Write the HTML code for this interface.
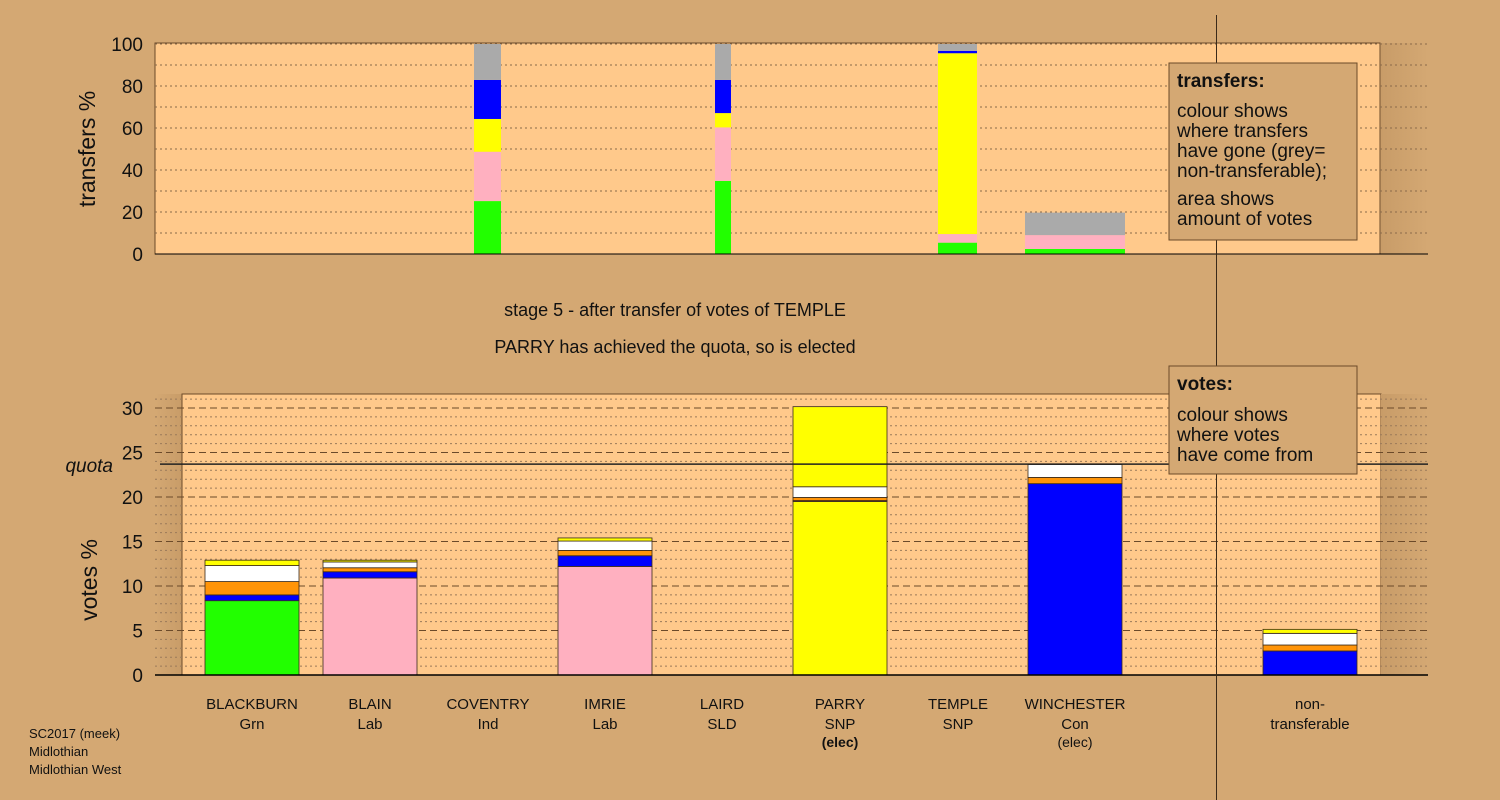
<!DOCTYPE html>
<html><head><meta charset="utf-8"><style>
html,body{margin:0;padding:0;background:#d4a873;}
svg{display:block;font-family:"Liberation Sans",sans-serif;}
</style></head><body>
<svg id="chart" width="1500" height="800" viewBox="0 0 1500 800" xmlns="http://www.w3.org/2000/svg">
<defs>
<linearGradient id="lshade" x1="0" x2="1" y1="0" y2="0"><stop offset="0" stop-color="#d4a873"/><stop offset="1" stop-color="#c89c68"/></linearGradient>
<linearGradient id="rshade" x1="0" x2="1" y1="0" y2="0"><stop offset="0" stop-color="#c89c68"/><stop offset="1" stop-color="#d4a873"/></linearGradient>
</defs>
<rect x="0" y="0" width="1500" height="800" fill="#d4a873"/>
<g id="top"></g>
<g id="bottom"></g>
<g id="labels"></g>
</svg>
<script>
// ---- top chart data (transfers %) ----
const topCategories = ["transfer-1","transfer-2","transfer-3","non-transferable"];
const topGreen  = [25.2, 34.8, 5.4, 2.4];
const topPink   = [23.5, 25.5, 4.1, 6.6];
const topYellow = [15.6, 6.8, 86.1, 0];
const topBlue   = [18.6, 15.8, 1.1, 0];
const topGrey   = [17.1, 17.1, 3.3, 10.7];
const topTicks  = [0,20,40,60,80,100];
// ---- bottom chart data (votes %) ----
const candidates = ["BLACKBURN","BLAIN","COVENTRY","IMRIE","LAIRD","PARRY","TEMPLE","WINCHESTER","non-"];
const parties    = ["Grn","Lab","Ind","Lab","SLD","SNP","SNP","Con","transferable"];
const notes      = ["","","","","","(elec)","","(elec)",""];
const firstPref  = [8.35, 10.9, 0, 12.2, 0, 19.5, 0, 21.5, 0];
const fromBlue   = [0.65, 0.7, 0, 1.2, 0, 0.1, 0, 0, 2.7];
const fromOrange = [1.5, 0.45, 0, 0.6, 0, 0.35, 0, 0.7, 0.67];
const fromWhite  = [1.8, 0.65, 0, 1.05, 0, 1.2, 0, 1.45, 1.31];
const fromYellow = [0.6, 0.2, 0, 0.35, 0, 9.0, 0, 0, 0.45];
const quota = 23.7;
const bottomTicks = [0,5,10,15,20,25,30];

const NS="http://www.w3.org/2000/svg";
function mk(tag, attrs, parent){const e=document.createElementNS(NS,tag);for(const k in attrs)e.setAttribute(k,attrs[k]);parent.appendChild(e);return e;}
const partyColor={Grn:"#22ff00",Lab:"#ffb0c0",SNP:"#ffff00",Con:"#0000ff",Ind:"#aaaaaa",SLD:"#ff9408",transferable:"#0000ff"};

// ---- top chart ----
const gT=document.getElementById('top');
const yT=v=>254-v*2.1;
let r=mk('rect',{x:155,y:43,width:1225,height:211,fill:'#ffc98b',stroke:'#6b4a2a','stroke-width':1},gT);

r=mk('rect',{x:1381,y:43,width:47,height:211,fill:'url(#rshade)'},gT);

for(let v=10;v<=100;v+=10){
  let l=mk('line',{x1:155,x2:1428,y1:yT(v),y2:yT(v),stroke:'#8a6a4a','stroke-width':1,'stroke-dasharray':'2,3'},gT);
  
}
const topX=[[474,501],[715,731],[938,977],[1025,1125]];
const topSeries=[[topGreen,'#22ff00'],[topPink,'#ffb0c0'],[topYellow,'#ffff00'],[topBlue,'#0000ff'],[topGrey,'#aaaaaa']];
topCategories.forEach((c,i)=>{
  let acc=0;
  topSeries.forEach(([arr,col])=>{
    const v=arr[i]; if(v<=0)return;
    const s=mk('rect',{x:topX[i][0],y:yT(acc+v),width:topX[i][1]-topX[i][0],height:v*2.1,fill:col},gT);
    
    
    acc+=v;
  });
});
let ax=mk('line',{x1:155,x2:1428,y1:254,y2:254,stroke:'#000','stroke-width':1},gT);

topTicks.forEach(t=>{
  const tx=mk('text',{x:143,y:yT(t)+7,'text-anchor':'end','font-size':19,fill:'#111'},gT);
  tx.textContent=t;
  
});
let tt=mk('text',{x:0,y:0,transform:'translate(95,149) rotate(-90)','text-anchor':'middle','font-size':23,fill:'#111'},gT);
tt.textContent='transfers %';

// ---- bottom chart ----
const gB=document.getElementById('bottom');
const yB=v=>675-v*8.9;
r=mk('rect',{x:155,y:394,width:27,height:281,fill:'url(#lshade)'},gB);

r=mk('rect',{x:182,y:394,width:1199,height:281,fill:'#ffc98b',stroke:'#6b4a2a','stroke-width':1},gB);

r=mk('rect',{x:1381,y:394,width:47,height:281,fill:'url(#rshade)'},gB);

for(let v=1;v<=31;v++){
  const dashed=v%5===0;
  const l=mk('line',{x1:155,x2:1428,y1:yB(v),y2:yB(v),stroke:dashed?'#6b4a2a':'#9a7a5a','stroke-width':1,'stroke-dasharray':dashed?'7,4':'2,3'},gB);
  
  
}
const barCX=[252,370,488,605,722,840,958,1075,1310];
candidates.forEach((c,i)=>{
  const segs=[[firstPref[i],partyColor[parties[i]]],[fromBlue[i],'#0000ff'],[fromOrange[i],'#ff9408'],[fromWhite[i],'#ffffff'],[fromYellow[i],'#ffff00']];
  let acc=0;
  segs.forEach(([v,col])=>{
    if(v<=0)return;
    const s=mk('rect',{x:barCX[i]-47,y:yB(acc+v),width:94,height:v*8.9,fill:col,stroke:'#3a2a1a','stroke-width':0.8},gB);
    
    
    acc+=v;
  });
});
let q=mk('line',{x1:160,x2:1428,y1:yB(quota),y2:yB(quota),stroke:'#222','stroke-width':1.5},gB);

ax=mk('line',{x1:155,x2:1428,y1:675,y2:675,stroke:'#000','stroke-width':1.5},gB);

bottomTicks.forEach(t=>{
  const tx=mk('text',{x:143,y:yB(t)+7,'text-anchor':'end','font-size':19,fill:'#111'},gB);
  tx.textContent=t;
  
});
let qt=mk('text',{x:113,y:yB(quota)+8,'text-anchor':'end','font-size':19,'font-style':'italic',fill:'#111'},gB);
qt.textContent='quota';
tt=mk('text',{x:0,y:0,transform:'translate(97,580) rotate(-90)','text-anchor':'middle','font-size':23,fill:'#111'},gB);
tt.textContent='votes %';
candidates.forEach((c,i)=>{
  let t1=mk('text',{x:barCX[i],y:709,'text-anchor':'middle','font-size':15,fill:'#111'},gB);
  t1.textContent=c;
  let t2=mk('text',{x:barCX[i],y:729,'text-anchor':'middle','font-size':15,fill:'#111'},gB);
  t2.textContent=parties[i];
  if(notes[i]){
    let t3=mk('text',{x:barCX[i],y:747,'text-anchor':'middle','font-size':14,fill:'#111','font-weight':i===5?'bold':'normal'},gB);
    t3.textContent=notes[i];
  }
});

// ---- divider, legends, captions ----
const gL=document.getElementById('labels');
let dv=mk('line',{x1:1216.5,x2:1216.5,y1:15,y2:800,stroke:'#3a2a1a','stroke-width':1},gL);

function legend(x,y,w,h,title,lines,name){
  const g=mk('g',{},gL);
  
  mk('rect',{x:x,y:y,width:w,height:h,fill:'#d4a873',stroke:'#6b4a2a','stroke-width':1},g);
  const t=mk('text',{x:x+8,y:y+24,'font-size':19,'font-weight':'bold',fill:'#111'},g);t.textContent=title;
  lines.forEach(([s,yy])=>{const l=mk('text',{x:x+8,y:y+yy,'font-size':19,fill:'#111'},g);l.textContent=s;});
}
legend(1169,63,188,177,'transfers:',[['colour shows',54],['where transfers',74],['have gone (grey=',94],['non-transferable);',114],['area shows',142],['amount of votes',162]],'transfers-legend');
legend(1169,366,188,108,'votes:',[['colour shows',55],['where votes',75],['have come from',95]],'votes-legend');
let c1=mk('text',{x:675,y:316,'text-anchor':'middle','font-size':18,fill:'#111'},gL);
c1.textContent='stage 5 - after transfer of votes of TEMPLE';
let c2=mk('text',{x:675,y:353,'text-anchor':'middle','font-size':18,fill:'#111'},gL);
c2.textContent='PARRY has achieved the quota, so is elected';
['SC2017 (meek)','Midlothian','Midlothian West'].forEach((s,i)=>{
  const t=mk('text',{x:29,y:738+i*18,'font-size':13,fill:'#111'},gL);
  t.textContent=s;
});
</script>
</body></html>
